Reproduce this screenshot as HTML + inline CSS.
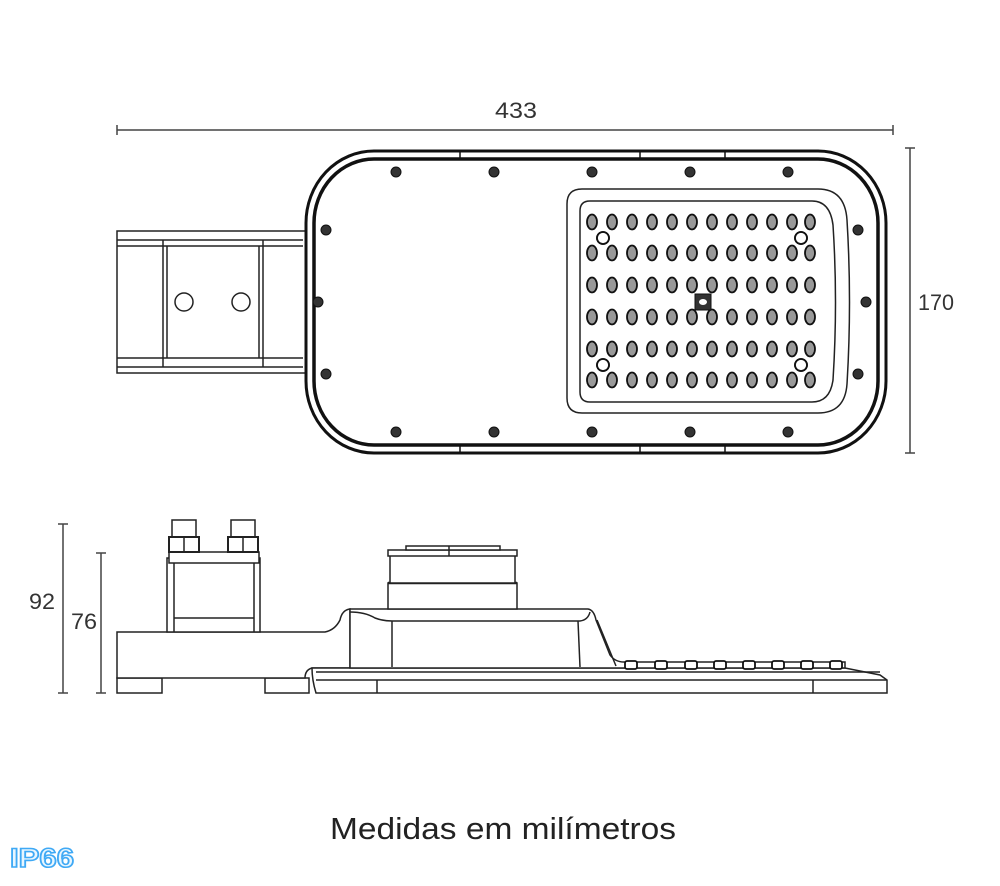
<!DOCTYPE html>
<html><head><meta charset="utf-8"><style>
html,body{margin:0;padding:0;background:#fff;}
svg{display:block;}
</style></head><body>
<svg width="1000" height="886" viewBox="0 0 1000 886" xmlns="http://www.w3.org/2000/svg" font-family="Liberation Sans, sans-serif">
<rect width="1000" height="886" fill="#fff"/>
<!-- dimension 433 -->
<g stroke="#444" stroke-width="1.5" fill="none">
<line x1="117" y1="130" x2="893" y2="130"/>
<line x1="117" y1="125" x2="117" y2="135"/><line x1="893" y1="125" x2="893" y2="135"/>
<line x1="910" y1="148" x2="910" y2="453"/>
<line x1="905" y1="148" x2="915" y2="148"/><line x1="905" y1="453" x2="915" y2="453"/>
<line x1="63" y1="524" x2="63" y2="693"/>
<line x1="58" y1="524" x2="68" y2="524"/><line x1="58" y1="693" x2="68" y2="693"/>
<line x1="101" y1="553" x2="101" y2="693"/>
<line x1="96" y1="553" x2="106" y2="553"/><line x1="96" y1="693" x2="106" y2="693"/>
</g>
<g fill="#333" font-size="22" text-anchor="middle">
<text x="516" y="118" textLength="42" lengthAdjust="spacingAndGlyphs">433</text>
<text x="936" y="310" textLength="36" lengthAdjust="spacingAndGlyphs">170</text>
<text x="42" y="609" textLength="26" lengthAdjust="spacingAndGlyphs">92</text>
<text x="84" y="629" textLength="26" lengthAdjust="spacingAndGlyphs">76</text>
</g>

<!-- top view: bracket -->
<g stroke="#222" stroke-width="1.5" fill="#fff">
<rect x="117" y="231" width="190" height="142"/>
<line x1="117" y1="240" x2="303" y2="240"/><line x1="117" y1="246" x2="303" y2="246"/>
<line x1="117" y1="358" x2="303" y2="358"/><line x1="117" y1="367" x2="303" y2="367"/>
<line x1="163" y1="240" x2="163" y2="367"/><line x1="167" y1="246" x2="167" y2="358"/>
<line x1="259" y1="246" x2="259" y2="358"/><line x1="263" y1="240" x2="263" y2="367"/>
<circle cx="184" cy="302" r="9"/><circle cx="241" cy="302" r="9"/>
</g>
<!-- housing -->
<rect x="306" y="151" width="580" height="302" rx="68" ry="72" fill="#fff" stroke="#111" stroke-width="3"/>
<rect x="314" y="159" width="564" height="286" rx="60" ry="64" fill="#fff" stroke="#111" stroke-width="3.5"/>
<g stroke="#111" stroke-width="1.5">
<line x1="460" y1="151" x2="460" y2="159"/><line x1="640" y1="151" x2="640" y2="159"/><line x1="725" y1="151" x2="725" y2="159"/>
<line x1="460" y1="445" x2="460" y2="453"/><line x1="640" y1="445" x2="640" y2="453"/><line x1="725" y1="445" x2="725" y2="453"/>
</g>
<!-- screws -->
<g fill="#333" stroke="#111" stroke-width="1">
<g id="s"><circle cx="396" cy="172" r="5"/></g>
<circle cx="494" cy="172" r="5"/><circle cx="592" cy="172" r="5"/><circle cx="690" cy="172" r="5"/><circle cx="788" cy="172" r="5"/>
<circle cx="396" cy="432" r="5"/><circle cx="494" cy="432" r="5"/><circle cx="592" cy="432" r="5"/><circle cx="690" cy="432" r="5"/><circle cx="788" cy="432" r="5"/>
<circle cx="326" cy="230" r="5"/><circle cx="318" cy="302" r="5"/><circle cx="326" cy="374" r="5"/>
<circle cx="858" cy="230" r="5"/><circle cx="866" cy="302" r="5"/><circle cx="858" cy="374" r="5"/>
</g>
<!-- LED panel -->
<path d="M582 189 H818 Q845 189 847 220 Q852 302 847 384 Q845 413 818 413 H582 Q567 413 567 398 V204 Q567 189 582 189Z" fill="#fff" stroke="#222" stroke-width="1.5"/>
<path d="M590 201 H812 Q830 201 833 225 Q838 302 833 380 Q830 402 812 402 H590 Q580 402 580 392 V211 Q580 201 590 201Z" fill="#fff" stroke="#222" stroke-width="1.5"/>
<g fill="#888" stroke="#111" stroke-width="2">
<!-- rows generated -->
</g>
<g id="leds" fill="#999" stroke="#111" stroke-width="2"></g>
<g fill="#fff" stroke="#111" stroke-width="1.8">
<circle cx="603" cy="238" r="6"/><circle cx="801" cy="238" r="6"/><circle cx="603" cy="365" r="6"/><circle cx="801" cy="365" r="6"/>
</g>
<rect x="695" y="294" width="16" height="16" fill="#333" stroke="#111"/>
<ellipse cx="703" cy="302" rx="4" ry="3" fill="#fff"/>

<!-- side view -->
<g stroke="#222" stroke-width="1.5" fill="#fff">
<rect x="117" y="678" width="45" height="15"/>
<rect x="265" y="678" width="44" height="15"/>
<path d="M117 632 H325 Q335 630 340 620 Q342 610 350 609 V668 H312 Q305 670 305 678 H117Z"/>
<rect x="167" y="558" width="93" height="74"/>
<line x1="174" y1="558" x2="174" y2="632"/><line x1="254" y1="558" x2="254" y2="632"/>
<line x1="174" y1="618" x2="254" y2="618"/>
<rect x="169" y="552" width="90" height="11"/>
<rect x="172" y="520" width="24" height="17"/><rect x="231" y="520" width="24" height="17"/>
<rect x="169" y="537" width="30" height="15" stroke-width="2"/><rect x="228" y="537" width="30" height="15" stroke-width="2"/>
<line x1="184" y1="537" x2="184" y2="552"/><line x1="243" y1="537" x2="243" y2="552"/>
<!-- lower plate -->
<path d="M312 668 H845 L880 675 L887 680 V693 H316 Q312 680 312 668Z"/>
<line x1="316" y1="672" x2="880" y2="672"/><line x1="316" y1="680" x2="887" y2="680"/>
<line x1="377" y1="680" x2="377" y2="693"/><line x1="813" y1="680" x2="813" y2="693"/>
<!-- driver -->
<path d="M350 668 V609 H588 Q594 610 596 620 L610 655 Q615 662 624 662 H845 V668Z"/>
<path d="M350 612 Q365 612 375 618 Q383 621 392 621 H580 Q588 620 590 612" fill="none"/>
<line x1="392" y1="621" x2="392" y2="667"/><line x1="578" y1="621" x2="580" y2="667"/>
<line x1="597" y1="620" x2="616" y2="666"/>
<rect x="388" y="583" width="129" height="26"/>
<line x1="388" y1="583" x2="517" y2="583" stroke-width="2.5"/>
<rect x="390" y="555" width="125" height="28"/>
<rect x="388" y="550" width="129" height="6"/>
<rect x="406" y="546" width="94" height="4"/>
<line x1="449" y1="546" x2="449" y2="556"/>
</g>
<g fill="#fff" stroke="#111" stroke-width="1.8" id="bumps"></g>

<!-- footer -->
<text x="503" y="839" font-size="31" fill="#222" text-anchor="middle" textLength="346" lengthAdjust="spacingAndGlyphs">Medidas em milímetros</text>
<text x="42" y="867" font-size="27" font-weight="bold" fill="#e8f6ff" stroke="#3fa9f5" stroke-width="1.6" text-anchor="middle" textLength="64" lengthAdjust="spacingAndGlyphs">IP66</text>

<!-- LEDs -->
<g fill="#999" stroke="#111" stroke-width="1.8">
<g transform="translate(0,0)">
<ellipse cx="592" cy="222" rx="5" ry="7.5"/><ellipse cx="612" cy="222" rx="5" ry="7.5"/><ellipse cx="632" cy="222" rx="5" ry="7.5"/><ellipse cx="652" cy="222" rx="5" ry="7.5"/><ellipse cx="672" cy="222" rx="5" ry="7.5"/><ellipse cx="692" cy="222" rx="5" ry="7.5"/><ellipse cx="712" cy="222" rx="5" ry="7.5"/><ellipse cx="732" cy="222" rx="5" ry="7.5"/><ellipse cx="752" cy="222" rx="5" ry="7.5"/><ellipse cx="772" cy="222" rx="5" ry="7.5"/><ellipse cx="792" cy="222" rx="5" ry="7.5"/><ellipse cx="810" cy="222" rx="5" ry="7.5"/>
</g>
<g transform="translate(0,31)">
<ellipse cx="592" cy="222" rx="5" ry="7.5"/><ellipse cx="612" cy="222" rx="5" ry="7.5"/><ellipse cx="632" cy="222" rx="5" ry="7.5"/><ellipse cx="652" cy="222" rx="5" ry="7.5"/><ellipse cx="672" cy="222" rx="5" ry="7.5"/><ellipse cx="692" cy="222" rx="5" ry="7.5"/><ellipse cx="712" cy="222" rx="5" ry="7.5"/><ellipse cx="732" cy="222" rx="5" ry="7.5"/><ellipse cx="752" cy="222" rx="5" ry="7.5"/><ellipse cx="772" cy="222" rx="5" ry="7.5"/><ellipse cx="792" cy="222" rx="5" ry="7.5"/><ellipse cx="810" cy="222" rx="5" ry="7.5"/>
</g>
<g transform="translate(0,63)">
<ellipse cx="592" cy="222" rx="5" ry="7.5"/><ellipse cx="612" cy="222" rx="5" ry="7.5"/><ellipse cx="632" cy="222" rx="5" ry="7.5"/><ellipse cx="652" cy="222" rx="5" ry="7.5"/><ellipse cx="672" cy="222" rx="5" ry="7.5"/><ellipse cx="692" cy="222" rx="5" ry="7.5"/><ellipse cx="712" cy="222" rx="5" ry="7.5"/><ellipse cx="732" cy="222" rx="5" ry="7.5"/><ellipse cx="752" cy="222" rx="5" ry="7.5"/><ellipse cx="772" cy="222" rx="5" ry="7.5"/><ellipse cx="792" cy="222" rx="5" ry="7.5"/><ellipse cx="810" cy="222" rx="5" ry="7.5"/>
</g>
<g transform="translate(0,95)">
<ellipse cx="592" cy="222" rx="5" ry="7.5"/><ellipse cx="612" cy="222" rx="5" ry="7.5"/><ellipse cx="632" cy="222" rx="5" ry="7.5"/><ellipse cx="652" cy="222" rx="5" ry="7.5"/><ellipse cx="672" cy="222" rx="5" ry="7.5"/><ellipse cx="692" cy="222" rx="5" ry="7.5"/><ellipse cx="712" cy="222" rx="5" ry="7.5"/><ellipse cx="732" cy="222" rx="5" ry="7.5"/><ellipse cx="752" cy="222" rx="5" ry="7.5"/><ellipse cx="772" cy="222" rx="5" ry="7.5"/><ellipse cx="792" cy="222" rx="5" ry="7.5"/><ellipse cx="810" cy="222" rx="5" ry="7.5"/>
</g>
<g transform="translate(0,127)">
<ellipse cx="592" cy="222" rx="5" ry="7.5"/><ellipse cx="612" cy="222" rx="5" ry="7.5"/><ellipse cx="632" cy="222" rx="5" ry="7.5"/><ellipse cx="652" cy="222" rx="5" ry="7.5"/><ellipse cx="672" cy="222" rx="5" ry="7.5"/><ellipse cx="692" cy="222" rx="5" ry="7.5"/><ellipse cx="712" cy="222" rx="5" ry="7.5"/><ellipse cx="732" cy="222" rx="5" ry="7.5"/><ellipse cx="752" cy="222" rx="5" ry="7.5"/><ellipse cx="772" cy="222" rx="5" ry="7.5"/><ellipse cx="792" cy="222" rx="5" ry="7.5"/><ellipse cx="810" cy="222" rx="5" ry="7.5"/>
</g>
<g transform="translate(0,158)">
<ellipse cx="592" cy="222" rx="5" ry="7.5"/><ellipse cx="612" cy="222" rx="5" ry="7.5"/><ellipse cx="632" cy="222" rx="5" ry="7.5"/><ellipse cx="652" cy="222" rx="5" ry="7.5"/><ellipse cx="672" cy="222" rx="5" ry="7.5"/><ellipse cx="692" cy="222" rx="5" ry="7.5"/><ellipse cx="712" cy="222" rx="5" ry="7.5"/><ellipse cx="732" cy="222" rx="5" ry="7.5"/><ellipse cx="752" cy="222" rx="5" ry="7.5"/><ellipse cx="772" cy="222" rx="5" ry="7.5"/><ellipse cx="792" cy="222" rx="5" ry="7.5"/><ellipse cx="810" cy="222" rx="5" ry="7.5"/>
</g>
</g>
<g fill="#fff" stroke="#111" stroke-width="1.8">
<circle cx="603" cy="238" r="6"/><circle cx="801" cy="238" r="6"/><circle cx="603" cy="365" r="6"/><circle cx="801" cy="365" r="6"/>
</g>
<rect x="695" y="294" width="16" height="16" fill="#333" stroke="#111"/>
<ellipse cx="703" cy="302" rx="4" ry="3" fill="#fff"/>
<!-- side LED bumps -->
<g fill="#fff" stroke="#111" stroke-width="1.8">
<rect x="625" y="661" width="12" height="8" rx="2"/><rect x="655" y="661" width="12" height="8" rx="2"/><rect x="685" y="661" width="12" height="8" rx="2"/><rect x="714" y="661" width="12" height="8" rx="2"/><rect x="743" y="661" width="12" height="8" rx="2"/><rect x="772" y="661" width="12" height="8" rx="2"/><rect x="801" y="661" width="12" height="8" rx="2"/><rect x="830" y="661" width="12" height="8" rx="2"/>
</g>
</svg>
</body></html>
